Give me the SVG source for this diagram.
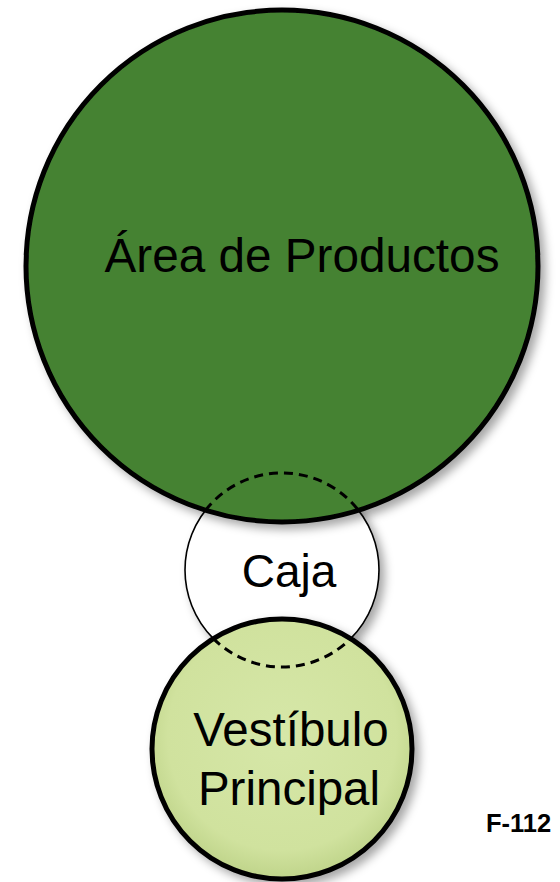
<svg xmlns="http://www.w3.org/2000/svg" width="560" height="882" viewBox="0 0 560 882">
<defs>
<filter id="sh" x="-20%" y="-20%" width="150%" height="150%">
<feDropShadow dx="5" dy="5" stdDeviation="5" flood-color="#000" flood-opacity="0.35"/>
</filter>
<radialGradient id="vg" cx="0.5" cy="0.45" r="0.55">
<stop offset="0" stop-color="#d6e7a8"/>
<stop offset="0.8" stop-color="#d0e29e"/>
<stop offset="1" stop-color="#bfd48a"/>
</radialGradient>
<style>
.lbl{font-family:"Liberation Sans",Arial,sans-serif;fill:#000;text-anchor:middle}
.big{font-size:46px}
.dash{fill:none;stroke:#000;stroke-width:3;stroke-dasharray:9 6}
</style>
</defs>
<rect width="560" height="882" fill="#fff"/>
<g id="caja">
<circle cx="282" cy="570" r="97" fill="#fff" stroke="#000" stroke-width="1.6" filter="url(#sh)"/>
</g>
<g id="area-productos">
<circle cx="282" cy="266" r="256" fill="#458233" stroke="#000" stroke-width="5" filter="url(#sh)"/>
<text class="lbl" x="302" y="272" font-size="47.7">Área de Productos</text>
</g>
<g id="vestibulo">
<circle cx="282" cy="749" r="130" fill="url(#vg)" stroke="#000" stroke-width="5" filter="url(#sh)"/>
<text class="lbl" x="291" y="746" font-size="47.5">Vestíbulo</text>
<text class="lbl" x="289" y="805" font-size="47.5">Principal</text>
</g>
<g id="caja-overlaps">
<path class="dash" d="M205.5,510.3 A97,97 0 0 1 358.5,510.3"/>
<path class="dash" d="M213.4,638.6 A97,97 0 0 0 350.6,638.6"/>
<text class="lbl big" x="289" y="587">Caja</text>
</g>
<g id="connectors"/>
<text id="label-f112" x="486" y="832" font-family="Liberation Sans,Arial,sans-serif" font-weight="bold" font-size="25.5">F-112</text>
</svg>
